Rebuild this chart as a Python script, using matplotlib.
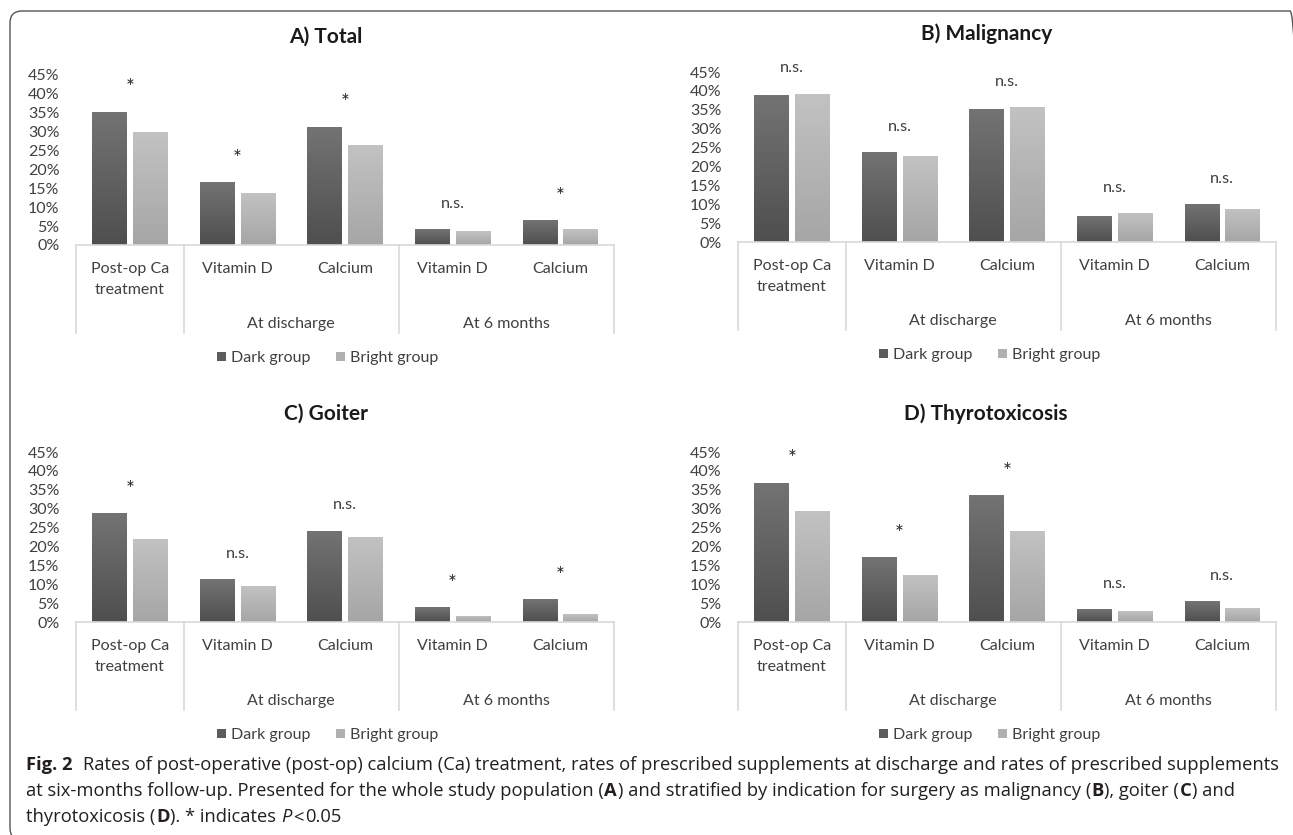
import matplotlib
matplotlib.use('Agg')
import matplotlib.pyplot as plt
import matplotlib.transforms as mtransforms
from matplotlib.patches import FancyBboxPatch
from matplotlib.colors import LinearSegmentedColormap
import numpy as np

# data (percent)
categories = ['Post-op Ca\ntreatment', 'Vitamin D', 'Calcium', 'Vitamin D', 'Calcium']
groups = ['At discharge', 'At 6 months']
group_spans = [(1, 2), (3, 4)]
series_names = ['Dark group', 'Bright group']
titles = ['A) Total', 'B) Malignancy', 'C) Goiter', 'D) Thyrotoxicosis']

dark_a = [35.3, 16.7, 31.3, 4.2, 6.6]
bright_a = [29.8, 13.8, 26.4, 3.7, 4.2]
sig_a = ['*', '*', '*', 'n.s.', '*']

dark_b = [38.9, 23.9, 35.3, 6.8, 10.1]
bright_b = [39.3, 22.8, 35.8, 7.7, 8.8]
sig_b = ['n.s.', 'n.s.', 'n.s.', 'n.s.', 'n.s.']

dark_c = [28.8, 11.3, 24.2, 3.9, 6.0]
bright_c = [22.1, 9.5, 22.6, 1.65, 2.1]
sig_c = ['*', 'n.s.', 'n.s.', '*', '*']

dark_d = [36.9, 17.1, 33.6, 3.4, 5.5]
bright_d = [29.5, 12.5, 24.2, 3.0, 3.7]
sig_d = ['*', '*', '*', 'n.s.', 'n.s.']

yticks = np.arange(0, 46, 5)

W, H = 1293, 835
FONT = 'Lato'
TXT = '#404040'
DARK = '#5c5c5c'
BRIGHT = '#b0b0b0'
GRID = '#d9d9d9'

fig = plt.figure(figsize=(W / 100, H / 100), dpi=100)


def shade(ax, bars, top, bottom):
    grad = np.linspace(0, 1, 64).reshape(-1, 1)
    cmap = LinearSegmentedColormap.from_list('g', [bottom, top])
    for b in bars:
        x0, w, h = b.get_x(), b.get_width(), b.get_height()
        im = ax.imshow(grad, cmap=cmap, origin='lower', aspect='auto',
                       extent=[x0, x0 + w, 0, h], zorder=2.5)
        im.set_clip_path(b)


def panel(left, top, title, title_x, dark, bright, sig):
    aw, ah = 538, 170
    ax = fig.add_axes([left / W, 1 - (top + ah) / H, aw / W, ah / H])
    x = np.arange(len(categories))
    b1 = ax.bar(x - 0.19, dark, width=0.32, color=DARK, label=series_names[0], zorder=2)
    b2 = ax.bar(x + 0.19, bright, width=0.32, color=BRIGHT, label=series_names[1], zorder=2)
    shade(ax, b1, '#737373', '#4f4f4f')
    shade(ax, b2, '#c2c2c2', '#a6a6a6')
    ax.set_xlim(-0.5, len(categories) - 0.5)
    ax.set_ylim(0, 45)
    ax.set_yticks(yticks)
    ax.set_yticklabels([f'{v}%' for v in yticks], fontsize=11.5, family=FONT, color=TXT)
    ax.tick_params(axis='y', length=0, pad=12)
    ax.set_xticks([])
    for s in ax.spines.values():
        s.set_visible(False)

    # significance marks
    for i in range(len(categories)):
        star = sig[i] == '*'
        ax.text(x[i], max(dark[i], bright[i]) + (4.6 if star else 5.6), sig[i],
                ha='center', va='baseline', fontsize=15 if star else 11.8,
                family=FONT, color='#262626' if star else TXT, clip_on=False)

    # multi-level category axis
    tx = ax.get_xaxis_transform()

    def off(dy):
        return mtransforms.offset_copy(tx, fig=fig, y=-dy, units='dots')
    ax.plot([-0.5, len(categories) - 0.5], [0, 0], color=GRID, lw=1.2, transform=tx,
            clip_on=False, zorder=3)
    for xb in [-0.5, 0.5, 2.5, 4.5]:
        ax.plot([xb, xb], [0, -88 / ah], color=GRID, lw=1.2, transform=tx, clip_on=False)
    for i, lab in enumerate(categories):
        ax.text(x[i], 0, lab, transform=off(17), ha='center', va='top', linespacing=1.65,
                fontsize=11.5, family=FONT, color=TXT)
    for g, (a, b) in zip(groups, group_spans):
        ax.text((a + b) / 2, 0, g, transform=off(79), ha='center', va='center',
                fontsize=11.5, family=FONT, color=TXT)

    leg = ax.legend(loc='center', bbox_to_anchor=(0.468, -113 / ah), ncol=2, frameon=False,
                    handlelength=0.55, handleheight=0.55, handletextpad=0.3, columnspacing=1.6,
                    prop={'family': FONT, 'size': 11.5})
    for t in leg.get_texts():
        t.set_color(TXT)

    fig.text(title_x / W, 1 - (top - 38) / H, title, ha='center', va='center',
             fontsize=15, fontweight='bold', family=FONT, color='#1a1a1a')
    return ax


panel(76, 75, titles[0], 326, dark_a, bright_a, sig_a)
panel(738, 72, titles[1], 987, dark_b, bright_b, sig_b)
panel(76, 452, titles[2], 326, dark_c, bright_c, sig_c)
panel(738, 452, titles[3], 986, dark_d, bright_d, sig_d)

# outer frame
frame = FancyBboxPatch((10, H - 840), 1292, 829, boxstyle='round,pad=0,rounding_size=12',
                       transform=mtransforms.IdentityTransform(), fill=False,
                       edgecolor='#555555', lw=1.0)
fig.add_artist(frame)

# caption
renderer = fig.canvas.get_renderer()
CAP = 'Open Sans'
CSZ = 13.25


def rich(y, parts, x=26):
    for txt, w, st, gap in parts:
        t = fig.text(x / W, 1 - y / H, txt, ha='left', va='center', fontsize=CSZ,
                     family=CAP, fontweight=w, fontstyle=st, color='#231f20')
        x += t.get_window_extent(renderer=renderer).width + gap * CSZ * 100 / 72


sp = 0.26
rich(765, [('Fig. 2', 'bold', 'normal', 0.55),
           ('Rates of post-operative (post-op) calcium (Ca) treatment, rates of prescribed supplements at discharge and rates of prescribed supplements', 'normal', 'normal', 0)])
rich(791, [('at six-months follow-up. Presented for the whole study population (', 'normal', 'normal', 0.03),
           ('A', 'bold', 'normal', 0.03),
           (') and stratified by indication for surgery as malignancy (', 'normal', 'normal', 0.03),
           ('B', 'bold', 'normal', 0.03),
           ('), goiter (', 'normal', 'normal', 0.03),
           ('C', 'bold', 'normal', 0.03),
           (') and', 'normal', 'normal', 0)])
rich(817, [('thyrotoxicosis (', 'normal', 'normal', 0.03),
           ('D', 'bold', 'normal', 0.03),
           ('). * indicates', 'normal', 'normal', sp),
           ('P', 'normal', 'italic', 0.1),
           ('<', 'normal', 'normal', 0.1),
           ('0.05', 'normal', 'normal', 0)])

fig.savefig('out.png', dpi=100, facecolor='white')
